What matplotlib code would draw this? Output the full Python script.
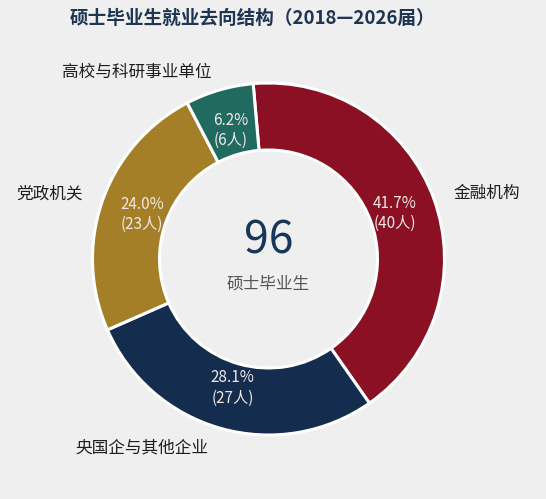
import numpy as np
import matplotlib
matplotlib.use("Agg")
import matplotlib.pyplot as plt

plt.rcParams['font.family'] = ['Noto Sans CJK SC', 'DejaVu Sans']

# 数据
categories = ["金融机构", "央国企与其他企业", "党政机关", "高校与科研事业单位"]
counts = [40, 27, 23, 6]
colors = ["#8c1023", "#142c4d", "#a57f27", "#216a5f"]
total = sum(counts)
title = "硕士毕业生就业去向结构（2018—2026届）"
center_label = "硕士毕业生"

# 版面 (像素坐标, y 向上)
W, H = 546, 499
cx, cy = 268.5, 240
R, ring = 176, 67
cat_pos = [(487, 306), (142, 51), (49, 305), (137, 427)]

fig = plt.figure(figsize=(W / 100, H / 100), dpi=100)
fig.patch.set_facecolor("#efefef")
ax = fig.add_axes([0, 0, 1, 1])

wedges, _ = ax.pie(counts, colors=colors, startangle=95, counterclock=False,
                   radius=R, center=(cx, cy),
                   wedgeprops=dict(width=ring, edgecolor="white", linewidth=2.2))
ax.set_xlim(0, W)
ax.set_ylim(0, H)
ax.set_aspect("equal")
ax.axis("off")

for w, n in zip(wedges, counts):
    ang = np.deg2rad((w.theta1 + w.theta2) / 2)
    r = 134
    x = cx + r * np.cos(ang)
    y = cy + r * np.sin(ang)
    ax.text(x, y, f"{n / total * 100:.1f}%\n({n}人)", ha="center", va="center",
            fontsize=11, color="#f2e8e8", linespacing=1.25)

for name, (x, y) in zip(categories, cat_pos):
    ax.text(x, y, name, ha="center", va="center", fontsize=12,
            color="#1e1e1e", fontweight="medium")

ax.text(cx, 259, str(total), ha="center", va="center", fontsize=32,
        color="#17365a", fontweight="light")
ax.text(cx, 215, center_label, ha="center", va="center", fontsize=12,
        color="#555555")

ax.text(252, 481, title, ha="center", va="center", fontsize=13.4,
        color="#1e3553", fontweight="semibold")

fig.savefig("out.png", dpi=100, facecolor=fig.get_facecolor())
